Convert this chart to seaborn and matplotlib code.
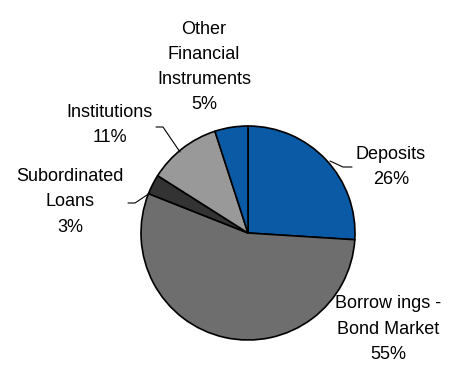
import matplotlib
matplotlib.use("Agg")
import matplotlib.pyplot as plt
import seaborn as sns

# funding mix
labels = ["Deposits", "Borrow ings -\nBond Market", "Subordinated\nLoans",
          "Institutions", "Other\nFinancial\nInstruments"]
shares = [26, 55, 3, 11, 5]
colors = ["#0a5aa6", "#6e6e6e", "#333333", "#999999", "#0a5aa6"]

# label centres in pixels (x, y from top) and leader lines
label_pos = [(391, 167), (388, 329), (70, 202), (110, 125), (204, 67)]
leaders = {
    0: [(330, 161), (343, 167), (352, 167)],
    2: [(128, 203), (135, 203), (150, 193)],
    3: [(156, 127), (163, 127), (180, 152)],
}

CX, CY, R = 248, 233, 107
W, H = 456, 367


def px(x, y):
    return (x - CX) / R, (CY - y) / R


sns.set_theme(style="white")
plt.rcParams['font.family'] = ['Liberation Sans', 'DejaVu Sans']

fig = plt.figure(figsize=(W / 100, H / 100), dpi=100)
ax = fig.add_axes([0, 0, 1, 1])
ax.pie(shares, colors=colors, startangle=90, counterclock=False, radius=1,
       wedgeprops=dict(edgecolor="black", linewidth=1.2))
ax.set_xlim(-CX / R, (W - CX) / R)
ax.set_ylim((CY - H) / R, CY / R)
ax.set_aspect("auto")
ax.axis("off")

for lab, val, (x, y) in zip(labels, shares, label_pos):
    tx, ty = px(x, y)
    ax.text(tx, ty, f"{lab}\n{val}%", ha="center", va="center",
            fontsize=13, linespacing=1.62, color="black")

for pts in leaders.values():
    xs, ys = zip(*[px(x, y) for x, y in pts])
    ax.plot(xs, ys, color="black", linewidth=0.8)

fig.savefig("out.png", dpi=100)
